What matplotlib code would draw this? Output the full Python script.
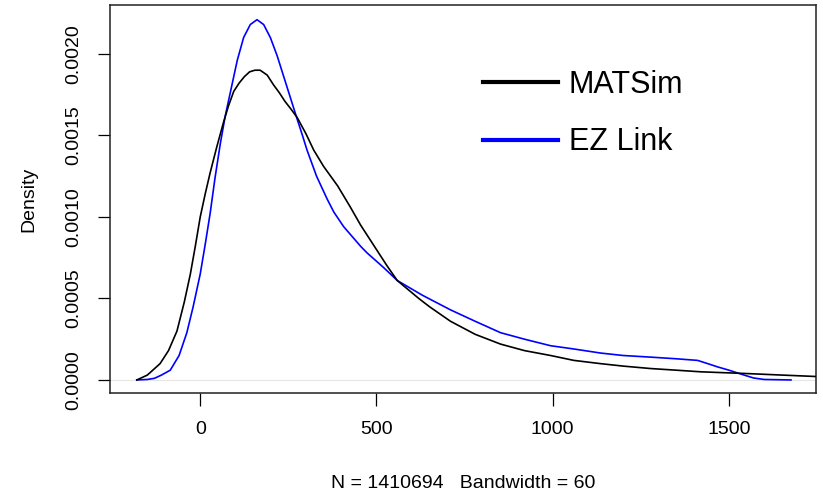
import numpy as np
import matplotlib
matplotlib.use("Agg")
from matplotlib import pyplot as plt
from matplotlib.ticker import FormatStrFormatter

plt.rcParams['font.family'] = ['Liberation Sans', 'DejaVu Sans']

# values
matsim_x = [-180, -150, -114, -90, -66, -45, -28, -14, 0, 14, 28, 47, 66, 80, 95, 110, 125, 140,
            155, 170, 190, 208, 225, 240, 258, 275, 300, 322, 350, 390, 426, 455, 500, 530, 559,
            620, 650, 710, 780, 852, 920, 994, 1060, 1136, 1200, 1278, 1350, 1420, 1480, 1543,
            1650, 1760]
matsim_y = [0, 0.00003, 0.0001, 0.00018, 0.0003, 0.00048, 0.00065, 0.00082, 0.001, 0.00114,
            0.00127, 0.00143, 0.00158, 0.00168, 0.00177, 0.00182, 0.00186, 0.00189,
            0.0019, 0.0019, 0.00187, 0.00181, 0.00176, 0.00171, 0.00166, 0.00161, 0.00151,
            0.00141, 0.00131, 0.00119, 0.00106, 0.00095, 0.0008, 0.0007, 0.00061,
            0.0005, 0.00045, 0.00036, 0.00028, 0.00022, 0.00018, 0.00015, 0.00012, 0.0001,
            0.000085, 0.00007, 0.00006, 0.00005, 0.000045, 0.00004, 0.00003, 0.00002]

ezlink_x = [-180, -150, -130, -110, -85, -60, -38, -20, 0, 14, 28, 42, 57, 71, 85, 105, 123, 142,
            161, 180, 199, 218, 237, 256, 275, 290, 303, 330, 360, 379, 407, 455, 473, 520, 559,
            630, 710, 780, 852, 920, 994, 1060, 1136, 1200, 1278, 1350, 1411, 1440, 1468, 1500,
            1543, 1570, 1600, 1676]
ezlink_y = [0, 0.000003, 0.00001, 0.00003, 0.00006, 0.00015, 0.00029, 0.00045, 0.00065, 0.00083,
            0.00102, 0.00124, 0.00145, 0.00162, 0.00176, 0.00196, 0.0021, 0.00218,
            0.00221, 0.00218, 0.0021, 0.00199, 0.00186, 0.00173, 0.0016, 0.0015, 0.00141,
            0.00125, 0.00111, 0.00103, 0.00094, 0.00082, 0.00078, 0.00069, 0.00061,
            0.00052, 0.00043, 0.00036, 0.00029, 0.00025, 0.00021, 0.00019, 0.000165, 0.00015,
            0.00014, 0.00013, 0.00012, 0.0001, 0.00008, 0.00006, 0.00003, 0.000012, 0.000003, 0]

series_names = ['MATSim', 'EZ Link']
xticks = [0, 500, 1000, 1500]
yticks = [0.0, 0.0005, 0.0010, 0.0015, 0.0020]
xlabel = 'N = 1410694   Bandwidth = 60'


W, H = 823, 493
fig = plt.figure(figsize=(W / 100, H / 100), dpi=100)
ax = fig.add_axes([110 / W, (H - 393) / H, (816 - 110) / W, (393 - 5) / H])

ax.axhline(0, color='#e6e6e6', lw=0.8, zorder=1)
ax.plot(matsim_x, matsim_y, color='black', lw=1.2, label=series_names[0], zorder=3)
ax.plot(ezlink_x, ezlink_y, color='#0000ff', lw=1.2, label=series_names[1], zorder=2)

ax.set_xlim(-256, 1747)
ax.set_ylim(-0.00008, 0.0023)
ax.set_xticks(xticks)
ax.set_yticks(yticks)
ax.yaxis.set_major_formatter(FormatStrFormatter('%.4f'))
ax.tick_params(axis='both', direction='out', length=9, width=0.9, labelsize=14, pad=11)
for lab in ax.get_yticklabels():
    lab.set_rotation(90)
    lab.set_va('center')
for s in ax.spines.values():
    s.set_linewidth(1.1)
    s.set_color('#222222')

ax.set_xlabel(xlabel, fontsize=14, labelpad=27)
ax.set_ylabel('Density', fontsize=14, labelpad=20)

leg = ax.legend(loc='upper left', bbox_to_anchor=(483 / W, 1 - 70 / H), bbox_transform=fig.transFigure,
                frameon=False, fontsize=22, handlelength=2.45, handletextpad=0.35,
                labelspacing=0.9, borderpad=0, borderaxespad=0)
for line in leg.get_lines():
    line.set_linewidth(3)

fig.savefig('out.png', dpi=100)
